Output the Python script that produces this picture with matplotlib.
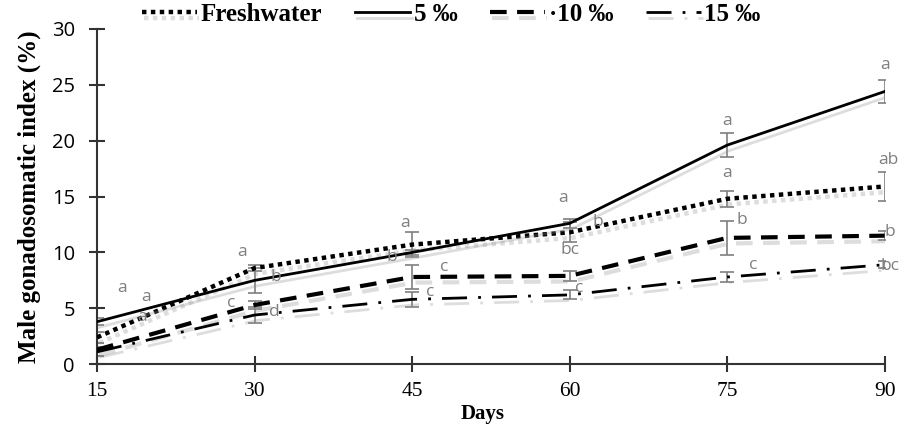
import matplotlib
matplotlib.use("Agg")
import matplotlib.pyplot as plt
import matplotlib.patheffects as pe

days = [15, 30, 45, 60, 75, 90]
series_names = ["Freshwater", "5 \u2030", "\u00b710 \u2030", "15 \u2030"]

fresh = [2.4, 8.6, 10.7, 11.8, 14.8, 15.9]
sal5 = [3.8, 7.5, 10.0, 12.6, 19.6, 24.4]
sal10 = [1.3, 5.3, 7.8, 7.9, 11.3, 11.5]
sal15 = [1.1, 4.4, 5.8, 6.2, 7.8, 8.9]

fresh_err = [0.5, 0.3, 1.1, 0.9, 0.7, 1.3]
sal5_err = [0.3, 1.1, 0.2, 0.4, 1.1, 1.0]
sal10_err = [0.6, 0.35, 1.1, 0.45, 1.5, 0.4]
sal15_err = [0.4, 0.75, 0.65, 0.4, 0.45, 0.3]

# significance letters: (text, day, value)
letters = [
    ("a", 17.4, 6.8), ("a", 19.7, 6.0), ("a", 19.3, 4.2),
    ("a", 28.8, 10.0), ("b", 32.0, 7.8), ("c", 27.8, 5.5), ("d", 31.9, 4.7),
    ("a", 44.3, 12.6), ("b", 43.1, 9.6), ("c", 48.1, 8.7), ("c", 46.7, 6.5),
    ("a", 59.4, 14.9), ("b", 62.7, 12.7), ("bc", 60.0, 10.2), ("c", 60.9, 6.8),
    ("a", 75.0, 21.8), ("a", 75.0, 17.1), ("b", 76.4, 12.9), ("c", 77.5, 8.9),
    ("a", 90.0, 26.8), ("ab", 90.4, 18.3), ("b", 90.5, 11.8), ("bc", 90.5, 8.8),
]

fig = plt.figure(figsize=(8.99, 4.32), dpi=100)
ax = fig.add_axes([0.108, 0.157, 0.876, 0.776])

shadow = [pe.SimpleLineShadow(offset=(1.5, -4), shadow_color="#909090", alpha=0.3), pe.Normal()]
styles = [
    dict(linestyle=(0, (1, 1)), lw=3.2),
    dict(linestyle="-", lw=2.0),
    dict(linestyle=(0, (4, 2.5)), lw=3.0),
    dict(linestyle=(0, (9, 4, 1, 4)), lw=2.0),
]
values = [fresh, sal5, sal10, sal15]
errs = [fresh_err, sal5_err, sal10_err, sal15_err]

for name, vals, err, st in zip(series_names, values, errs, styles):
    ax.errorbar(days, vals, yerr=err, fmt="none", ecolor="#7f7f7f",
                elinewidth=1.2, capsize=5, capthick=1.2, zorder=2)
    ax.plot(days, vals, color="black", label=name, path_effects=shadow,
            zorder=3, **st)

for txt, x, y in letters:
    ax.text(x, y, txt, color="#7f7f7f", fontsize=12.5, family="Open Sans",
            ha="center", va="center", zorder=4, clip_on=False)

ax.set_xlim(15, 90)
ax.set_ylim(0, 30)
ax.set_xticks(days)
ax.set_yticks(range(0, 31, 5))
for s in ["top", "right"]:
    ax.spines[s].set_visible(False)
for s in ["left", "bottom"]:
    ax.spines[s].set_color("#333333")
    ax.spines[s].set_linewidth(1.5)
ax.tick_params(direction="inout", length=12, width=1.5, color="#333333")
for lab in ax.get_xticklabels():
    lab.set_family("Liberation Serif")
    lab.set_fontsize(15.5)
for lab in ax.get_yticklabels():
    lab.set_family("Open Sans")
    lab.set_fontsize(14.5)
ax.tick_params(axis="x", pad=7)
ax.tick_params(axis="y", pad=10)

ax.set_xlabel("Days", family="Liberation Serif", fontweight="bold", fontsize=15, labelpad=0)
ax.xaxis.set_label_coords(0.49, -0.12)
ax.set_ylabel("Male gonadosomatic index (%)", family="Liberation Serif",
              fontweight="bold", fontsize=18, labelpad=8)

fig.legend(loc="center", bbox_to_anchor=(0.502, 0.966), ncol=4, frameon=False,
           prop=dict(family="Liberation Serif", weight="bold", size=18),
           handlelength=2.2, handletextpad=0.15, columnspacing=1.3)

fig.savefig("out.png", dpi=100)
